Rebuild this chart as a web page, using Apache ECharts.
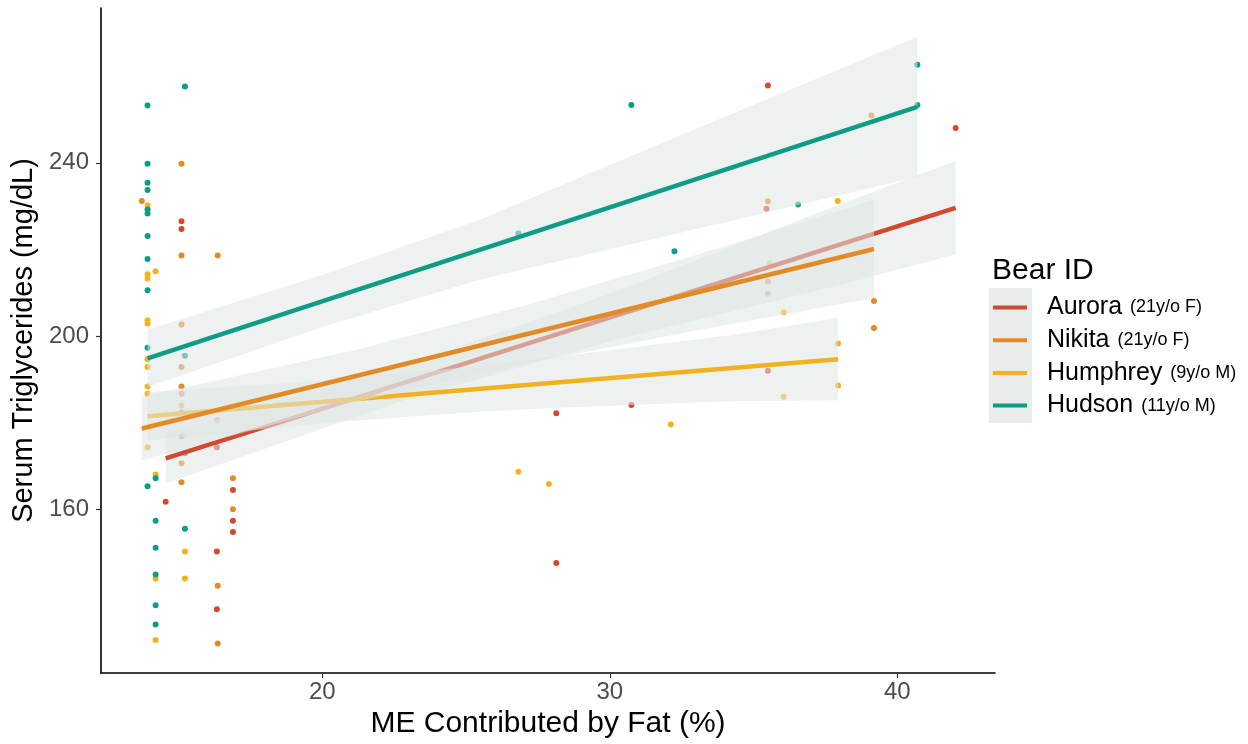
<!DOCTYPE html>
<html><head><meta charset="utf-8">
<script src="https://cdn.jsdelivr.net/npm/echarts@6/dist/echarts.min.js"></script>
<style>html,body{margin:0;padding:0;background:#fff}#c{width:1248px;height:744px}</style>
</head><body><div id="c"></div>
<script>
// ---------- data ----------
const bears = ['Aurora', 'Nikita', 'Humphrey', 'Hudson'];
const bearNotes = ['(21y/o F)', '(21y/o F)', '(9y/o M)', '(11y/o M)'];
const xTicks = [20, 30, 40];
const yTicks = [160, 200, 240];

const auroraX = [15.1, 15.1, 15.1, 15.1, 16.33, 15.1, 16.33, 16.89, 14.55, 16.89, 16.89, 16.33, 16.33, 28.14, 30.75, 28.14, 35.5, 42.03, 35.45, 35.5, 35.5];
const auroraY = [226.5, 224.7, 186.7, 182.4, 180.6, 176.9, 174.4, 164.5, 161.8, 157.4, 154.8, 150.3, 137.0, 182.2, 184.1, 147.7, 257.8, 248.0, 229.4, 212.6, 192.0];

const nikitaX = [15.1, 13.72, 15.1, 16.36, 15.1, 15.1, 15.1, 15.1, 15.1, 16.89, 15.1, 16.89, 16.36, 16.36, 39.1, 35.5, 35.5, 39.19, 39.19];
const nikitaY = [239.8, 231.2, 218.6, 218.6, 202.7, 192.9, 188.4, 184.0, 170.7, 167.2, 166.3, 160.1, 142.4, 129.1, 250.9, 231.1, 209.8, 208.1, 201.9];

const humphreyX = [13.92, 14.2, 13.92, 13.92, 13.92, 13.92, 13.92, 13.92, 13.92, 13.92, 13.92, 14.2, 15.22, 14.2, 15.22, 14.2, 26.82, 27.88, 32.12, 37.93, 35.57, 36.05, 37.94, 37.94, 36.05];
const humphreyY = [230.2, 215.0, 214.3, 213.3, 203.7, 202.9, 194.7, 192.9, 188.4, 186.7, 174.4, 168.1, 150.3, 144.1, 144.1, 129.9, 168.7, 165.9, 179.6, 231.2, 216.8, 205.5, 198.3, 188.6, 186.0];

const hudsonX = [15.22, 13.92, 13.92, 13.92, 13.92, 13.92, 13.92, 13.92, 13.92, 13.92, 13.92, 15.22, 15.22, 14.2, 13.92, 14.2, 15.22, 14.2, 14.2, 14.2, 14.2, 30.75, 26.82, 32.25, 40.7, 40.7, 36.55];
const hudsonY = [257.6, 253.2, 239.8, 235.4, 233.7, 229.2, 228.3, 223.1, 217.8, 210.6, 197.3, 195.5, 173.0, 167.2, 165.4, 157.4, 155.6, 151.2, 145.0, 137.9, 133.5, 253.3, 223.7, 219.6, 262.6, 253.3, 230.4];

// fitted lines
const auroraFitX = [14.55, 42.03];   const auroraFitY = [171.8, 229.6];
const nikitaFitX = [13.72, 39.19];   const nikitaFitY = [178.7, 220.1];
const humphreyFitX = [13.92, 37.94]; const humphreyFitY = [181.5, 194.7];
const hudsonFitX = [13.92, 40.7];    const hudsonFitY = [194.9, 252.9];

// confidence bands
const auroraBandX = [14.55, 22.7, 30, 37.99, 42.03];
const auroraBandLow = [166.0, 184.9, 198.8, 211.8, 218.9];
const auroraBandHigh = [177.6, 192.9, 209.8, 230.4, 240.4];

const nikitaBandX = [13.72, 21.4, 27, 33, 39.19];
const nikitaBandLow = [171.4, 185.2, 193.6, 201.3, 208.8];
const nikitaBandHigh = [186.0, 197.2, 207.0, 218.7, 231.4];

const humphreyBandX = [13.92, 20, 25.49, 28.26, 34.17, 37.94];
const humphreyBandLow = [175.9, 179.9, 182.6, 183.5, 185.0, 185.2];
const humphreyBandHigh = [187.1, 189.7, 193.2, 195.3, 200.2, 204.2];

const hudsonBandX = [13.92, 20, 25.49, 34.17, 40.7];
const hudsonBandLow = [188.3, 202.1, 213.1, 226.5, 236.8];
const hudsonBandHigh = [201.5, 214.1, 226.9, 251.1, 269.0];

// ---------- styling ----------
const colors = { Aurora: '#D2492F', Nikita: '#E28A25', Humphrey: '#F2B11F', Hudson: '#0E9C87' };
const FONT = '"Liberation Sans", Arial, Helvetica, sans-serif';
const bandFill = 'rgba(222,229,228,0.55)';

const groups = {
  Aurora:   { x: auroraX, y: auroraY, fx: auroraFitX, fy: auroraFitY, bx: auroraBandX, lo: auroraBandLow, hi: auroraBandHigh },
  Nikita:   { x: nikitaX, y: nikitaY, fx: nikitaFitX, fy: nikitaFitY, bx: nikitaBandX, lo: nikitaBandLow, hi: nikitaBandHigh },
  Humphrey: { x: humphreyX, y: humphreyY, fx: humphreyFitX, fy: humphreyFitY, bx: humphreyBandX, lo: humphreyBandLow, hi: humphreyBandHigh },
  Hudson:   { x: hudsonX, y: hudsonY, fx: hudsonFitX, fy: hudsonFitY, bx: hudsonBandX, lo: hudsonBandLow, hi: hudsonBandHigh }
};

const zip = (a, b) => a.map((v, i) => [v, b[i]]);

const series = [];
// points first
bears.forEach(b => {
  const g = groups[b];
  series.push({
    type: 'scatter', name: b + ' points', data: zip(g.x, g.y),
    symbolSize: 6, itemStyle: { color: colors[b], opacity: 1 }, z: 1, silent: true
  });
});
// smooths: drawn in alphabetical group order (as ggplot does)
const drawOrder = ['Aurora', 'Hudson', 'Humphrey', 'Nikita'];
drawOrder.forEach((b, k) => {
  const g = groups[b];
  series.push({
    type: 'custom', name: b + ' band', z: 2 + k * 2, silent: true, clip: true,
    data: [[g.bx[0], g.lo[0]]],
    renderItem: function (params, api) {
      const pts = [];
      for (let i = 0; i < g.bx.length; i++) pts.push(api.coord([g.bx[i], g.hi[i]]));
      for (let i = g.bx.length - 1; i >= 0; i--) pts.push(api.coord([g.bx[i], g.lo[i]]));
      return { type: 'polygon', shape: { points: pts }, style: { fill: bandFill } };
    }
  });
  series.push({
    type: 'line', name: b, data: zip(g.fx, g.fy), z: 3 + k * 2,
    showSymbol: false, symbol: 'none', silent: true,
    lineStyle: { color: colors[b], width: 4.5, cap: 'butt' },
    itemStyle: { color: colors[b] }
  });
});

const chart = echarts.init(document.getElementById('c'), null, { renderer: 'canvas' });
chart.setOption({
  animation: false,
  backgroundColor: '#ffffff',
  textStyle: { fontFamily: FONT },
  grid: { left: 101, top: 8, width: 894, height: 665, containLabel: false },
  xAxis: {
    type: 'value', min: 12.3, max: 43.4,
    name: 'ME Contributed by Fat (%)', nameLocation: 'middle', nameGap: 36,
    nameTextStyle: { fontSize: 30, color: '#000', fontFamily: FONT },
    axisLine: { show: true, onZero: false, lineStyle: { color: '#000', width: 1.6 } },
    axisTick: { show: true, length: 5, lineStyle: { color: '#333', width: 1.2 }, customValues: xTicks },
    axisLabel: { color: '#4d4d4d', fontSize: 24, margin: 7, fontFamily: FONT, customValues: xTicks },
    splitLine: { show: false }
  },
  yAxis: {
    type: 'value', min: 122.3, max: 275.7,
    name: 'Serum Triglycerides (mg/dL)', nameLocation: 'middle', nameGap: 54, nameRotate: 90,
    nameTextStyle: { fontSize: 29, color: '#000', fontFamily: FONT },
    axisLine: { show: true, onZero: false, lineStyle: { color: '#000', width: 1.6 } },
    axisTick: { show: true, length: 5, lineStyle: { color: '#333', width: 1.2 }, customValues: yTicks },
    axisLabel: { color: '#4d4d4d', fontSize: 24, margin: 12, fontFamily: FONT, customValues: yTicks },
    splitLine: { show: false }
  },
  legend: {
    left: 993, top: 295, orient: 'vertical', padding: 0,
    itemWidth: 34, itemHeight: 4, itemGap: 7.7, icon: 'rect',
    selectedMode: false,
    data: bears,
    formatter: function (name) {
      return '{a|' + name + '}{b|' + bearNotes[bears.indexOf(name)] + '}';
    },
    textStyle: {
      fontFamily: FONT, color: '#000',
      rich: {
        a: { fontSize: 25, fontFamily: FONT, color: '#000', padding: [0, 8, 0, 15], lineHeight: 25 },
        b: { fontSize: 18, fontFamily: FONT, color: '#000', lineHeight: 25 }
      }
    }
  },
  graphic: [
    { type: 'rect', left: 989, top: 288, z: -1, shape: { width: 43, height: 135 }, style: { fill: '#E8ECEB' } },
    { type: 'text', left: 992, top: 256, style: { text: 'Bear ID', fontSize: 30, fontFamily: FONT, fill: '#000' } }
  ],
  series: series
});
</script>
</body></html>
